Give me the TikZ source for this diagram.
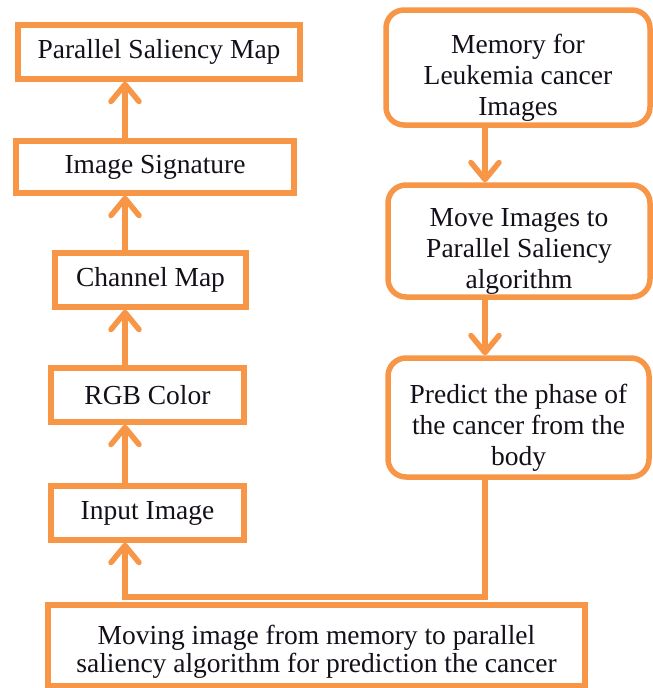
\documentclass[tikz,border=0pt]{standalone}
\usepackage{fontspec}
\setmainfont{Liberation Serif}
\usetikzlibrary{arrows.meta}
\definecolor{boxorange}{RGB}{247,150,70}
\definecolor{inkblack}{RGB}{20,15,25}
\begin{document}
\begin{tikzpicture}[x=1pt,y=-1pt,
  box/.style={draw=boxorange, line width=5.5pt, fill=white, inner sep=0pt,
    text=inkblack, font=\fontsize{27.5}{31}\selectfont, align=center},
  sqbox/.style={box},
  rbox/.style={box, rounded corners=18pt, text height=101pt},
  arr/.style={draw=boxorange, line width=5.5pt,
    -{Straight Barb[length=17pt,width=28pt,round]}},
  link/.style={draw=boxorange, line width=5.5pt}
]
\useasboundingbox (0,0) rectangle (653,688);
% left column
\node[sqbox, minimum width=282pt, minimum height=54pt] (psm) at (159,52) {Parallel Saliency Map};
\node[sqbox, minimum width=278pt, minimum height=52pt] (sig) at (155,167) {Image Signature};
\node[sqbox, minimum width=191pt, minimum height=54pt] (chan) at (150.5,280) {Channel Map};
\node[sqbox, minimum width=193pt, minimum height=54pt] (rgb) at (147.5,395) {RGB Color};
\node[sqbox, minimum width=193pt, minimum height=54pt] (inp) at (147.5,513) {Input Image};
% right column
\node[rbox, minimum width=264pt, minimum height=115pt] (mem) at (518,67.5) {Memory for\\Leukemia cancer\\Images};
\node[rbox, minimum width=262pt, minimum height=112pt] (move) at (519,241) {Move Images to\\Parallel Saliency\\algorithm};
\node[rbox, minimum width=261pt, minimum height=119pt] (pred) at (518.5,417.5) {Predict the phase of\\the cancer from the\\body};
% bottom
\node[sqbox, minimum width=537pt, minimum height=81pt, font=\fontsize{27.5}{28}\selectfont, text height=59pt] (bot) at (316.5,645.5)
  {Moving image from memory to parallel\\saliency algorithm for prediction the cancer};
% column guides
\coordinate (colL) at (125,0);
\coordinate (colR) at (485,0);
\coordinate (turnR) at (485,597);
\coordinate (turnL) at (125,597);
% arrows left
\draw[arr] (sig.north -| colL) -- (psm.south -| colL);
\draw[arr] (chan.north -| colL) -- (sig.south -| colL);
\draw[arr] (rgb.north -| colL) -- (chan.south -| colL);
\draw[arr] (inp.north -| colL) -- (rgb.south -| colL);
% arrows right
\draw[arr] (mem.south -| colR) -- (move.north -| colR);
\draw[arr] (move.south -| colR) -- (pred.north -| colR);
% feedback
\draw[arr] (pred.south -| colR) -- (turnR) -- (turnL) -- (inp.south -| colL);
\end{tikzpicture}
\end{document}
